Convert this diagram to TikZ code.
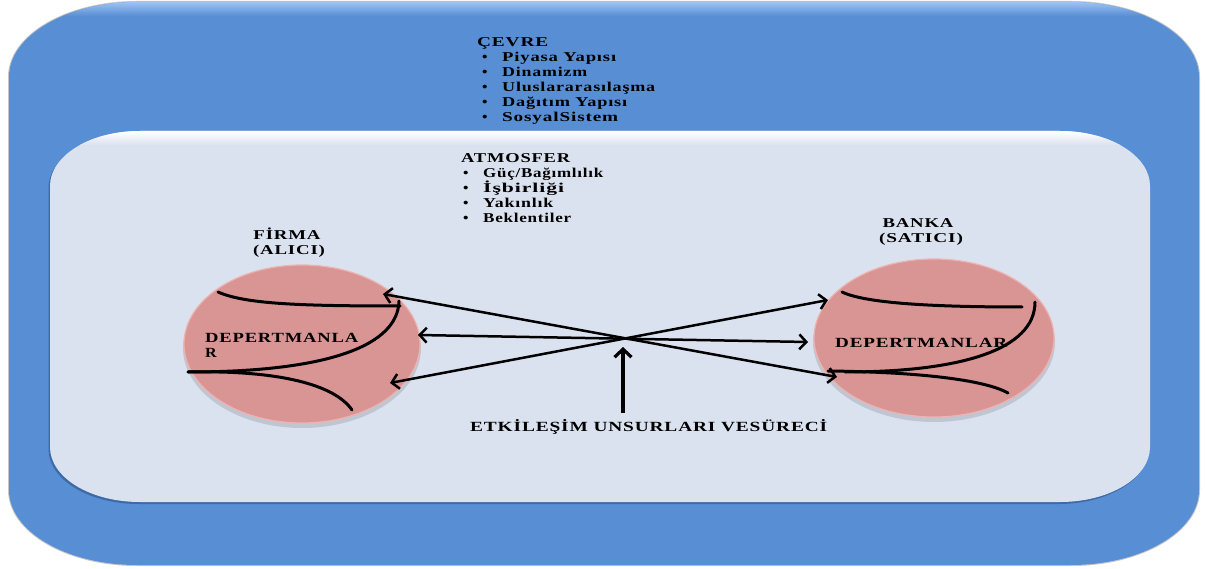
\documentclass[tikz,border=0pt]{standalone}
\usepackage{fontspec}
\usepackage{graphicx}
\setmainfont{Liberation Serif}[FakeStretch=1.15, LetterSpace=5]
\usetikzlibrary{shapes.geometric, arrows.meta}

\definecolor{envblue}{HTML}{588ED3}
\definecolor{envlight}{HTML}{9CC3F5}
\definecolor{envshade}{HTML}{3D6BA8}
\definecolor{atmfill}{HTML}{DBE2EF}
\definecolor{deptfill}{HTML}{D99594}
\definecolor{deptlight}{HTML}{EDB3B1}

% stretch a bold label to a given width, keeping its height
\newcommand\fitw[2]{\resizebox{#1pt}{\height}{#2}}
\newcommand\itembullet{\makebox[20pt][l]{\textbullet}}

\tikzset{
  lbl/.style={inner sep=0pt, font=\bfseries\fontsize{13.5}{15}\selectfont},
  biglbl/.style={inner sep=0pt, font=\bfseries\fontsize{14}{16}\selectfont},
  dept/.style={ellipse, fill=deptfill, draw=deptlight, line width=1.2pt,
    minimum width=236pt, minimum height=158pt, inner sep=0pt},
  flow/.style={line width=2.5pt, {Straight Barb[length=7pt,width=15pt,line width=2.5pt]}-{Straight Barb[length=7pt,width=15pt,line width=2.5pt]}},
  push/.style={line width=3.2pt, -{Straight Barb[length=8pt,width=17pt,line width=3.2pt]}},
  tie/.style={line width=3pt, line cap=round},
}

\begin{document}
\begin{tikzpicture}[x=1pt, y=-1pt]
\useasboundingbox (0,0) rectangle (1205,569);

% environment frame
\def\outerpath{(137,2) -- (1071,2) .. controls (1141.7,2) and (1199,35.6) .. (1199,77)
  -- (1199,490) .. controls (1199,531.4) and (1141.7,565) .. (1071,565)
  -- (137,565) .. controls (66.3,565) and (9,531.4) .. (9,490)
  -- (9,77) .. controls (9,35.6) and (66.3,2) .. (137,2) -- cycle}
\draw[gray!45, line width=2pt] \outerpath;
\fill[envblue] \outerpath;
\begin{scope}
  \clip \outerpath;
  \shade[top color=envlight, bottom color=envblue] (9,2) rectangle (1199,16);
\end{scope}

% atmosphere panel
\def\innerpath{(140,131) -- (1060,131) .. controls (1109.7,131) and (1150,155.6) .. (1150,186)
  -- (1150,447) .. controls (1150,477.6) and (1109.7,502) .. (1060,502)
  -- (140,502) .. controls (90.3,502) and (50,477.6) .. (50,447)
  -- (50,186) .. controls (50,155.6) and (90.3,131) .. (140,131) -- cycle}
\begin{scope}[shift={(-1.5,2)}]
  \fill[envshade] \innerpath;
\end{scope}
\fill[atmfill] \innerpath;
\begin{scope}
  \clip \innerpath;
  \shade[top color=white, bottom color=atmfill] (50,131) rectangle (1150,145);
\end{scope}

% environment list
\node[lbl, anchor=base west] (cevre) at (477,47) {\fitw{71}{ÇEVRE}};
\node[lbl, anchor=base west] (cv1) at (482,62)  {\itembullet\fitw{114}{Piyasa Yapısı}};
\node[lbl, anchor=base west] (cv2) at (482,77)  {\itembullet\fitw{85}{Dinamizm}};
\node[lbl, anchor=base west] (cv3) at (482,92)  {\itembullet\fitw{153}{Uluslararasılaşma}};
\node[lbl, anchor=base west] (cv4) at (482,107) {\itembullet\fitw{125}{Dağıtım Yapısı}};
\node[lbl, anchor=base west] (cv5) at (482,122) {\itembullet\fitw{116}{SosyalSistem}};

% atmosphere list
\node[lbl, anchor=base west] (atmosfer) at (461,163) {\fitw{109}{ATMOSFER}};
\node[lbl, anchor=base west] (at1) at (463,178) {\itembullet\fitw{120}{Güç/Bağımlılık}};
\node[lbl, anchor=base west] (at2) at (463,193) {\itembullet\fitw{81}{İşbirliği}};
\node[lbl, anchor=base west] (at3) at (463,208) {\itembullet\fitw{70}{Yakınlık}};
\node[lbl, anchor=base west] (at4) at (463,223) {\itembullet\fitw{88}{Beklentiler}};

% the two parties
\fill[black, opacity=0.12] (302,348) ellipse[x radius=119, y radius=80];
\fill[black, opacity=0.12] (934,342) ellipse[x radius=121, y radius=80];
\node[dept] (firma) at (302,344) {};
\node[dept, minimum width=240pt] (banka) at (934,338) {};

\node[lbl, anchor=base] (firmaname) at (287,240) {\fitw{67}{FİRMA}};
\node[lbl, anchor=base] (firmarole) at (289,255) {\fitw{72}{(ALICI)}};
\node[lbl, anchor=base] (bankaname) at (918,228) {\fitw{71}{BANKA}};
\node[lbl, anchor=base] (bankarole) at (921,243) {\fitw{84}{(SATICI)}};

% departments inside the buyer
\draw[tie] (218,292) .. controls (245,304) and (300,306) .. (400,306);
\draw[tie] (399,301) .. controls (398,345) and (330,372) .. (188,372);
\draw[tie] (188,372) .. controls (280,370) and (335,385) .. (352,410);
\node[biglbl, anchor=base west] (firmadept1) at (205,342) {\fitw{153}{DEPERTMANLA}};
\node[biglbl, anchor=base west] (firmadept2) at (205,357) {R};

% departments inside the seller
\draw[tie] (842,292) .. controls (865,303) and (930,307) .. (1022,307);
\draw[tie] (1035,302) .. controls (1035,350) and (960,372) .. (845,372);
\draw[tie] (828,371) .. controls (920,372) and (985,380) .. (1008,393);
\node[biglbl, anchor=base west] (bankadept) at (835,348) {\fitw{172}{DEPERTMANLAR}};

% interaction arrows
\coordinate (fup)  at (383,294);
\coordinate (fmid) at (418,335);
\coordinate (flow) at (390,383);
\coordinate (bup)  at (828,300);
\coordinate (bmid) at (808,342);
\coordinate (blow) at (837,377);
\coordinate (hub)  at (623,347);
\coordinate (src)  at (623,413);
\draw[flow] (fup) -- (blow);
\draw[flow] (flow) -- (bup);
\draw[flow] (fmid) -- (bmid);
\draw[push] (src) -- (hub);

\node[biglbl, anchor=base west] (process) at (470,431) {\fitw{357}{ETKİLEŞİM UNSURLARI VESÜRECİ}};
\end{tikzpicture}
\end{document}
